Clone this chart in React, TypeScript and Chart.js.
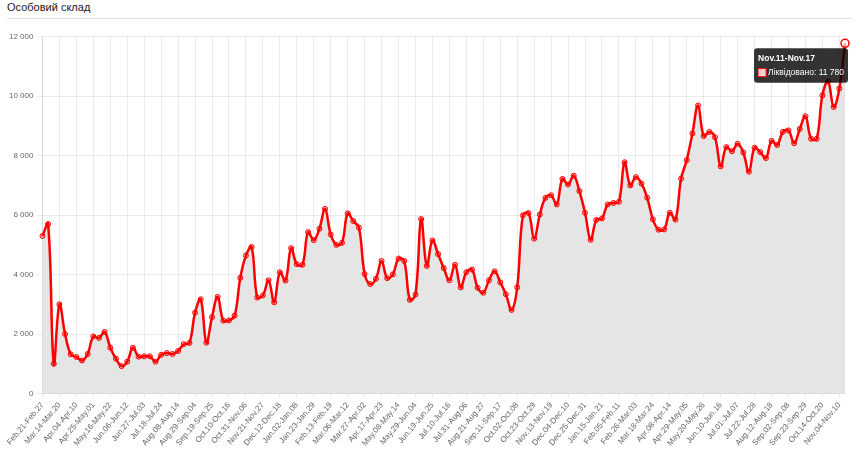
import React, { useEffect, useRef } from 'react';
import { Chart, registerables } from 'chart.js';

Chart.register(...registerables);

const chartTitle = 'Особовий склад';
const seriesLabel = 'Ліквідовано';

const weekLabels = [
  'Feb.21-Feb.27', 'Feb.28-Mar.06', 'Mar.07-Mar.13', 'Mar.14-Mar.20', 'Mar.21-Mar.27', 'Mar.28-Apr.03',
  'Apr.04-Apr.10', 'Apr.11-Apr.17', 'Apr.18-Apr.24', 'Apr.25-May.01', 'May.02-May.08', 'May.09-May.15',
  'May.16-May.22', 'May.23-May.29', 'May.30-Jun.05', 'Jun.06-Jun.12', 'Jun.13-Jun.19', 'Jun.20-Jun.26',
  'Jun.27-Jul.03', 'Jul.04-Jul.10', 'Jul.11-Jul.17', 'Jul.18-Jul.24', 'Jul.25-Jul.31', 'Aug.01-Aug.07',
  'Aug.08-Aug.14', 'Aug.15-Aug.21', 'Aug.22-Aug.28', 'Aug.29-Sep.04', 'Sep.05-Sep.11', 'Sep.12-Sep.18',
  'Sep.19-Sep.25', 'Sep.26-Oct.02', 'Oct.03-Oct.09', 'Oct.10-Oct.16', 'Oct.17-Oct.23', 'Oct.24-Oct.30',
  'Oct.31-Nov.06', 'Nov.07-Nov.13', 'Nov.14-Nov.20', 'Nov.21-Nov.27', 'Nov.28-Dec.04', 'Dec.05-Dec.11',
  'Dec.12-Dec.18', 'Dec.19-Dec.25', 'Dec.26-Jan.01', 'Jan.02-Jan.08', 'Jan.09-Jan.15', 'Jan.16-Jan.22',
  'Jan.23-Jan.29', 'Jan.30-Feb.05', 'Feb.06-Feb.12', 'Feb.13-Feb.19', 'Feb.20-Feb.26', 'Feb.27-Mar.05',
  'Mar.06-Mar.12', 'Mar.13-Mar.19', 'Mar.20-Mar.26', 'Mar.27-Apr.02', 'Apr.03-Apr.09', 'Apr.10-Apr.16',
  'Apr.17-Apr.23', 'Apr.24-Apr.30', 'May.01-May.07', 'May.08-May.14', 'May.15-May.21', 'May.22-May.28',
  'May.29-Jun.04', 'Jun.05-Jun.11', 'Jun.12-Jun.18', 'Jun.19-Jun.25', 'Jun.26-Jul.02', 'Jul.03-Jul.09',
  'Jul.10-Jul.16', 'Jul.17-Jul.23', 'Jul.24-Jul.30', 'Jul.31-Aug.06', 'Aug.07-Aug.13', 'Aug.14-Aug.20',
  'Aug.21-Aug.27', 'Aug.28-Sep.03', 'Sep.04-Sep.10', 'Sep.11-Sep.17', 'Sep.18-Sep.24', 'Sep.25-Oct.01',
  'Oct.02-Oct.08', 'Oct.09-Oct.15', 'Oct.16-Oct.22', 'Oct.23-Oct.29', 'Oct.30-Nov.05', 'Nov.06-Nov.12',
  'Nov.13-Nov.19', 'Nov.20-Nov.26', 'Nov.27-Dec.03', 'Dec.04-Dec.10', 'Dec.11-Dec.17', 'Dec.18-Dec.24',
  'Dec.25-Dec.31', 'Jan.01-Jan.07', 'Jan.08-Jan.14', 'Jan.15-Jan.21', 'Jan.22-Jan.28', 'Jan.29-Feb.04',
  'Feb.05-Feb.11', 'Feb.12-Feb.18', 'Feb.19-Feb.25', 'Feb.26-Mar.03', 'Mar.04-Mar.10', 'Mar.11-Mar.17',
  'Mar.18-Mar.24', 'Mar.25-Mar.31', 'Apr.01-Apr.07', 'Apr.08-Apr.14', 'Apr.15-Apr.21', 'Apr.22-Apr.28',
  'Apr.29-May.05', 'May.06-May.12', 'May.13-May.19', 'May.20-May.26', 'May.27-Jun.02', 'Jun.03-Jun.09',
  'Jun.10-Jun.16', 'Jun.17-Jun.23', 'Jun.24-Jun.30', 'Jul.01-Jul.07', 'Jul.08-Jul.14', 'Jul.15-Jul.21',
  'Jul.22-Jul.28', 'Jul.29-Aug.04', 'Aug.05-Aug.11', 'Aug.12-Aug.18', 'Aug.19-Aug.25', 'Aug.26-Sep.01',
  'Sep.02-Sep.08', 'Sep.09-Sep.15', 'Sep.16-Sep.22', 'Sep.23-Sep.29', 'Sep.30-Oct.06', 'Oct.07-Oct.13',
  'Oct.14-Oct.20', 'Oct.21-Oct.27', 'Oct.28-Nov.03', 'Nov.04-Nov.10', 'Nov.11-Nov.17',
];

const killedValues = [
  5300, 5700, 1000, 3000, 2000, 1320, 1230, 1110, 1330, 1920, 1870, 2070,
  1540, 1170, 920, 1070, 1540, 1240, 1250, 1250, 1070, 1300, 1360, 1330,
  1430, 1660, 1700, 2720, 3170, 1710, 2570, 3250, 2450, 2460, 2620, 3890,
  4640, 4930, 3230, 3300, 3810, 3070, 4080, 3800, 4890, 4350, 4330, 5430,
  5160, 5540, 6210, 5350, 5000, 5070, 6060, 5800, 5580, 4020, 3680, 3860,
  4460, 3880, 4010, 4540, 4460, 3150, 3330, 5870, 4290, 5150, 4690, 4220,
  3810, 4330, 3570, 4080, 4170, 3560, 3390, 3810, 4110, 3740, 3340, 2810,
  3570, 5990, 6070, 5210, 6020, 6580, 6670, 6360, 7220, 7030, 7330, 6810,
  6080, 5170, 5840, 5890, 6360, 6410, 6450, 7780, 7000, 7280, 7060, 6590,
  5860, 5510, 5520, 6080, 5850, 7230, 7850, 8750, 9690, 8660, 8800, 8620,
  7640, 8290, 8150, 8400, 8110, 7460, 8270, 8120, 7920, 8500, 8360, 8800,
  8850, 8420, 8900, 9330, 8570, 8570, 10030, 10500, 9640, 10260, 11780,
];

const yMin = 0;
const yMax = 12000;
const yStep = 2000;
const labelEvery = 3;

function formatNumber(v: number): string {
  return String(Math.round(v)).replace(/\B(?=(\d{3})+(?!\d))/g, ' ');
}

export default function App() {
  const canvasRef = useRef<HTMLCanvasElement>(null);

  useEffect(() => {
    document.body.style.margin = '0';
    const canvas = canvasRef.current;
    if (!canvas) return;
    const font = '"Liberation Sans", Arial, sans-serif';
    const gridColor = 'rgba(0,0,0,0.08)';
    const chart = new Chart(canvas, {
      type: 'line',
      data: {
        labels: weekLabels,
        datasets: [
          {
            label: seriesLabel,
            data: killedValues,
            borderColor: '#ff0000',
            backgroundColor: '#e5e5e5',
            fill: true,
            tension: 0.4,
            borderWidth: 2.5,
            pointRadius: 2.5,
            pointBorderWidth: 1,
            pointBorderColor: '#ff0000',
            pointBackgroundColor: 'rgba(255,0,0,0.2)',
            pointHoverRadius: 4,
            pointHoverBorderWidth: 1.5,
            pointHoverBorderColor: '#ff0000',
            pointHoverBackgroundColor: 'rgba(255,255,255,0.6)',
          },
        ],
      },
      options: {
        animation: false,
        responsive: false,
        events: [],
        layout: { padding: { right: 14, left: 6 } },
        plugins: {
          legend: { display: false },
          title: { display: false },
          tooltip: {
            enabled: true,
            backgroundColor: 'rgba(0,0,0,0.8)',
            titleFont: { family: font, size: 8.5, weight: 'bold' },
            bodyFont: { family: font, size: 8.5 },
            titleColor: '#fff',
            bodyColor: '#fff',
            padding: { top: 5, bottom: 5, left: 4, right: 4 },
            titleMarginBottom: 4,
            caretSize: 0,
            caretPadding: 5,
            cornerRadius: 3,
            boxWidth: 8,
            boxHeight: 8,
            xAlign: 'right',
            yAlign: 'top',
            callbacks: {
              label: (ctx: any) => `${ctx.dataset.label}: ${formatNumber(ctx.parsed.y)}`,
            },
          },
        },
        scales: {
          x: {
            grid: {
              color: (ctx: any) => (ctx.index % labelEvery === 0 ? gridColor : 'transparent'),
              tickLength: 5,
            },
            border: { color: gridColor },
            ticks: {
              autoSkip: false,
              minRotation: 50,
              maxRotation: 50,
              color: '#666',
              font: { family: font, size: 8 },
              padding: 2,
              callback: (_v: any, i: number) => (i % labelEvery === 0 ? weekLabels[i] : ''),
            },
          },
          y: {
            min: yMin,
            max: yMax,
            grid: { color: gridColor, tickLength: 6 },
            border: { color: gridColor },
            ticks: {
              stepSize: yStep,
              color: '#666',
              font: { family: font, size: 8 },
              padding: 3,
              callback: (v: any) => formatNumber(Number(v)),
            },
          },
        },
      },
    });

    const last = killedValues.length - 1;
    const el: any = chart.getDatasetMeta(0).data[last];
    chart.setActiveElements([{ datasetIndex: 0, index: last }]);
    chart.tooltip?.setActiveElements([{ datasetIndex: 0, index: last }], { x: el.x, y: el.y });
    chart.update();

    return () => chart.destroy();
  }, []);

  return (
    <div style={{ position: 'relative', width: 859, height: 459, background: '#fff', overflow: 'hidden' }}>
      <div
        style={{
          position: 'absolute',
          left: 7,
          top: 1,
          fontFamily: '"Liberation Sans", Arial, sans-serif',
          fontSize: 11,
          color: '#222',
          lineHeight: '13px',
        }}
      >
        {chartTitle}
      </div>
      <div style={{ position: 'absolute', left: 7, right: 7, top: 18, height: 1, background: '#dde0e4' }} />
      <canvas
        ref={canvasRef}
        width={859}
        height={421}
        style={{ position: 'absolute', left: 0, top: 29, width: 859, height: 421 }}
      />
    </div>
  );
}
